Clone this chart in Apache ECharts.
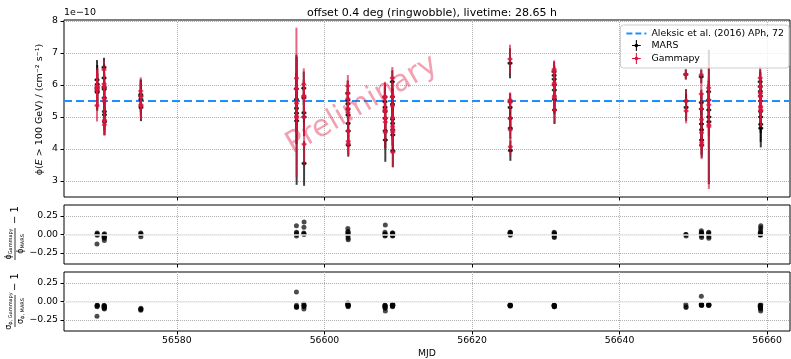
<!DOCTYPE html>
<meta charset="utf-8">
<title>Light curve MARS vs Gammapy</title>
<style>
body { margin: 0; background: #fff; }
#main { width: 791px; height: 359px; }
</style>
<body>
<div id="main"></div>
<script src="https://cdn.jsdelivr.net/npm/echarts@6/dist/echarts.min.js"></script>
<script>
// flux in units of 1e-10 cm^-2 s^-1, one entry per run (grouped by night)
var mjd = [
  56569.17, 56569.18, 56569.19, 56569.20, 56569.21,
  56570.12, 56570.13, 56570.14, 56570.15, 56570.16, 56570.17, 56570.18, 56570.19,
  56575.10, 56575.11, 56575.12, 56575.13,
  56596.19, 56596.20, 56596.21, 56596.22, 56596.23,
  56597.20, 56597.21, 56597.22, 56597.23, 56597.24,
  56603.16, 56603.17, 56603.18, 56603.19, 56603.20, 56603.21, 56603.22, 56603.23,
  56608.19, 56608.20, 56608.21, 56608.22, 56608.23, 56608.24, 56608.25,
  56609.20, 56609.21, 56609.22, 56609.23, 56609.24, 56609.25, 56609.26, 56609.27,
  56625.15, 56625.16, 56625.17, 56625.18, 56625.19, 56625.20,
  56631.12, 56631.13, 56631.14, 56631.15, 56631.16, 56631.17, 56631.18,
  56648.98, 56649.00, 56649.02,
  56651.07, 56651.08, 56651.09, 56651.10, 56651.11, 56651.12, 56651.13,
  56652.07, 56652.08, 56652.09, 56652.10, 56652.11,
  56659.06, 56659.07, 56659.08, 56659.09, 56659.10, 56659.11, 56659.12, 56659.13, 56659.14
];
var marsFlux = [
  6.16, 5.90, 5.82, 5.77, 6.02,
  6.55, 6.22, 5.93, 5.87, 5.60, 5.17, 5.07, 4.85,
  5.70, 5.65, 5.55, 5.30,
  5.88, 5.55, 5.27, 5.12, 4.88,
  5.90, 5.60, 5.13, 5.00, 3.55,
  5.74, 5.53, 5.41, 5.24, 5.06, 4.80, 4.56, 4.12,
  5.62, 5.48, 5.30, 5.17, 4.96, 4.57, 4.28,
  6.10, 5.63, 5.40, 4.93, 4.80, 4.60, 4.44, 3.94,
  6.68, 5.48, 5.30, 4.96, 4.65, 3.95,
  6.42, 6.30, 6.18, 6.00, 5.84, 5.55, 5.22,
  6.33, 5.50, 5.30,
  6.26, 5.45, 5.25, 4.78, 4.60, 4.28, 4.12,
  5.79, 5.53, 5.22, 5.00, 4.85,
  6.10, 5.95, 5.80, 5.65, 5.50, 5.17, 5.00, 4.77, 4.65
];
var marsErr = [
  0.62, 0.60, 0.57, 0.58, 0.60,
  0.30, 0.45, 0.48, 0.46, 0.50, 0.36, 0.48, 0.42,
  0.48, 0.50, 0.50, 0.43,
  0.50, 1.40, 0.55, 0.60, 2.00,
  0.52, 0.55, 0.60, 0.60, 0.70,
  0.40, 0.35, 0.50, 0.50, 0.45, 0.45, 0.45, 0.36,
  0.43, 0.50, 0.50, 0.50, 0.50, 0.55, 0.68,
  0.36, 0.50, 0.50, 0.50, 0.50, 0.50, 0.50, 0.50,
  0.47, 0.25, 0.30, 0.30, 0.32, 0.32,
  0.31, 0.30, 0.40, 0.40, 0.40, 0.45, 0.44,
  0.16, 0.37, 0.42,
  0.21, 0.40, 0.45, 0.45, 0.40, 0.45, 0.39,
  0.35, 0.50, 0.50, 2.10, 0.45,
  0.39, 0.45, 0.45, 0.45, 0.50, 0.50, 0.50, 0.55, 0.60
];
var gammapyFlux = [
  5.36, 5.90, 5.93, 5.83, 5.96,
  6.48, 6.03, 5.93, 5.58, 5.49, 4.76, 4.87, 4.90,
  5.81, 5.65, 5.38, 5.35,
  5.88, 6.21, 5.43, 5.02, 4.98,
  6.02, 5.66, 5.64, 5.00, 4.15,
  5.74, 5.97, 5.57, 5.14, 5.26, 4.56, 4.24, 4.16,
  5.62, 5.64, 5.19, 5.22, 4.96, 4.52, 4.84,
  6.22, 5.63, 5.35, 4.98, 4.70, 4.60, 4.53, 3.90,
  6.81, 5.53, 5.46, 4.96, 4.60, 4.07,
  6.42, 6.49, 6.00, 6.06, 5.61, 5.66, 5.22,
  6.33, 5.50, 5.19,
  6.32, 5.72, 5.25, 4.92, 4.51, 4.11, 4.20,
  5.91, 5.53, 5.38, 4.75, 4.70,
  6.22, 5.95, 5.74, 5.65, 5.50, 5.33, 5.30, 5.20, 5.21
];
var gammapyErr = [
  0.50, 0.56, 0.54, 0.55, 0.57,
  0.28, 0.41, 0.46, 0.42, 0.47, 0.32, 0.45, 0.39,
  0.43, 0.44, 0.45, 0.39,
  0.47, 1.58, 0.52, 0.55, 1.86,
  0.50, 0.51, 0.54, 0.57, 0.66,
  0.39, 0.34, 0.48, 0.48, 0.42, 0.43, 0.42, 0.34,
  0.41, 0.46, 0.47, 0.48, 0.45, 0.51, 0.59,
  0.34, 0.47, 0.48, 0.47, 0.48, 0.47, 0.48, 0.48,
  0.45, 0.24, 0.29, 0.29, 0.30, 0.30,
  0.29, 0.28, 0.38, 0.37, 0.38, 0.43, 0.41,
  0.15, 0.34, 0.39,
  0.20, 0.43, 0.43, 0.43, 0.38, 0.43, 0.37,
  0.33, 0.48, 0.48, 2.00, 0.43,
  0.37, 0.42, 0.42, 0.41, 0.46, 0.46, 0.45, 0.48, 0.52
];
// phi_Gammapy / phi_MARS - 1
var fluxRatio = [
  -0.13, 0.00, 0.02, 0.01, -0.01,
  -0.01, -0.03, 0.00, -0.05, -0.02, -0.08, -0.04, 0.01,
  0.02, 0.00, -0.03, 0.01,
  0.00, 0.12, 0.03, -0.02, 0.02,
  0.02, 0.01, 0.10, 0.00, 0.17,
  0.00, 0.08, 0.03, -0.02, 0.04, -0.05, -0.07, 0.01,
  0.00, 0.03, -0.02, 0.01, 0.00, -0.01, 0.13,
  0.02, 0.00, -0.01, 0.01, -0.02, 0.00, 0.02, -0.01,
  0.02, 0.01, 0.03, 0.00, -0.01, 0.03,
  0.00, 0.03, -0.03, 0.01, -0.04, 0.02, 0.00,
  0.00, 0.00, -0.02,
  0.01, 0.05, 0.00, 0.03, -0.02, -0.04, 0.02,
  0.02, 0.00, 0.03, -0.05, -0.03,
  0.02, 0.00, -0.01, 0.00, 0.00, 0.03, 0.06, 0.09, 0.12
];
// sigma_Gammapy / sigma_MARS - 1
var errRatio = [
  -0.20, -0.07, -0.05, -0.06, -0.05,
  -0.06, -0.08, -0.05, -0.09, -0.07, -0.10, -0.06, -0.08,
  -0.10, -0.12, -0.11, -0.09,
  -0.07, 0.13, -0.05, -0.08, -0.07,
  -0.03, -0.07, -0.10, -0.05, -0.06,
  -0.03, -0.02, -0.05, -0.04, -0.07, -0.05, -0.06, -0.05,
  -0.05, -0.08, -0.06, -0.05, -0.09, -0.07, -0.13,
  -0.05, -0.06, -0.04, -0.07, -0.05, -0.06, -0.05, -0.04,
  -0.05, -0.06, -0.05, -0.04, -0.05, -0.06,
  -0.05, -0.06, -0.05, -0.07, -0.06, -0.05, -0.07,
  -0.04, -0.08, -0.07,
  -0.04, 0.07, -0.04, -0.05, -0.04, -0.05, -0.05,
  -0.05, -0.04, -0.05, -0.05, -0.04,
  -0.05, -0.07, -0.06, -0.08, -0.09, -0.07, -0.10, -0.13, -0.04
];
var refFlux = 5.5;   // Aleksic et al. (2016)
var xTicks = [56580, 56600, 56620, 56640, 56660];
var fluxTicks = [3, 4, 5, 6, 7, 8];
var ratioTicks = [-0.25, 0, 0.25];

var xMin = 56564.7, xMax = 56663.1;
var left = 64, right = 1;
var panels = [{ top: 20, height: 177 }, { top: 205, height: 59 }, { top: 272, height: 59 }];

var font = 'DejaVu Sans';
var tickFont = 9.3;
var gridLine = { show: true, lineStyle: { color: '#b0b0b0', type: 'dotted', width: 1 } };

function rows(x, y, e) {
  return x.map(function (v, i) { return [v, y[i], e[i]]; });
}
function pairs(x, y) {
  return x.map(function (v, i) { return [v, y[i]]; });
}

function errorBar(color, opacity, lw) {
  return function (params, api) {
    var x = api.value(0), y = api.value(1), e = api.value(2);
    var p = api.coord([x, y]);
    var hi = api.coord([x, y + e]);
    var lo = api.coord([x, y - e]);
    var st = { stroke: color, lineWidth: lw, opacity: opacity };
    return {
      type: 'group',
      children: [
        { type: 'line', shape: { x1: p[0], y1: hi[1], x2: p[0], y2: lo[1] }, style: st },
        { type: 'line', shape: { x1: p[0] - 2.5, y1: p[1], x2: p[0] + 2.5, y2: p[1] }, style: st },
        { type: 'circle', shape: { cx: p[0], cy: p[1], r: 2 }, style: { fill: color, opacity: opacity } }
      ]
    };
  };
}

function xAxis(i, labels) {
  return {
    type: 'value', gridIndex: i, min: xMin, max: xMax,
    axisLine: { show: false, onZero: false },
    axisTick: { show: true, length: 3.5, inside: false, customValues: xTicks, lineStyle: { color: '#000' } },
    axisLabel: {
      show: labels, customValues: xTicks, color: '#000', fontFamily: font, fontSize: tickFont, margin: 5,
      formatter: function (v) { return String(v); }
    },
    splitLine: gridLine,
    name: labels ? 'MJD' : '', nameLocation: 'middle', nameGap: 18,
    nameTextStyle: { color: '#000', fontFamily: font, fontSize: tickFont }
  };
}
function ratioAxis(i) {
  return {
    type: 'value', gridIndex: i, min: -0.4, max: 0.4,
    axisLine: { show: false, onZero: false },
    axisTick: { show: true, length: 3.5, customValues: ratioTicks, lineStyle: { color: '#000' } },
    axisLabel: {
      customValues: ratioTicks, color: '#000', fontFamily: font, fontSize: tickFont, margin: 6,
      formatter: function (v) { return (v < 0 ? '\u2212' : '') + Math.abs(v).toFixed(2); }
    },
    splitLine: gridLine
  };
}

var zeroLine = {
  silent: true, symbol: 'none', label: { show: false },
  lineStyle: { color: '#ebebeb', type: 'solid', width: 1.5 },
  data: [{ yAxis: 0 }]
};

function fracLabel(cy, num, den) {
  var rich = {
    m: { fontFamily: font, fontSize: 8, fill: '#000' },
    s: { fontFamily: font, fontSize: 5, fill: '#000', padding: [4, 0, 0, 0] }
  };
  return {
    type: 'group', x: 15, y: cy, rotation: Math.PI / 2,
    children: [
      { type: 'text', x: -11, y: -6, style: { text: num, rich: rich, align: 'center', verticalAlign: 'middle' } },
      { type: 'line', shape: { x1: -27, y1: 0, x2: 5, y2: 0 }, style: { stroke: '#000', lineWidth: 0.8 } },
      { type: 'text', x: -11, y: 6, style: { text: den, rich: rich, align: 'center', verticalAlign: 'middle' } },
      { type: 'text', x: 18, y: 0, style: { text: '\u2212 1', fontFamily: font, fontSize: 10, fill: '#000', align: 'center', verticalAlign: 'middle' } }
    ]
  };
}

var myChart = echarts.init(document.getElementById('main'), null, { renderer: 'canvas' });

// thin errorbar cross with a dot, as in the matplotlib legend
var crossIcon = 'path://M4.4,0h1.2v4.3a1.8,1.8 0 0 1 1.4,1.4h3v1.2h-3a1.8,1.8 0 0 1 -1.4,1.4v4.3h-1.2v-4.3a1.8,1.8 0 0 1 -1.4,-1.4h-3v-1.2h3a1.8,1.8 0 0 1 1.4,-1.4z';

var option = {
  animation: false,
  backgroundColor: '#fff',
  textStyle: { fontFamily: font },
  title: {
    text: 'offset 0.4 deg (ringwobble), livetime: 28.65 h',
    left: left + (791 - left - right) / 2, textAlign: 'center', top: 3,
    textStyle: { fontFamily: font, fontSize: 11, fontWeight: 'normal', color: '#000' }
  },
  grid: panels.map(function (p) {
    return { left: left, right: right, top: p.top, height: p.height, show: true, borderColor: '#000', borderWidth: 1, backgroundColor: 'transparent' };
  }),
  legend: {
    orient: 'vertical', right: 2, top: 25,
    backgroundColor: 'rgba(255,255,255,0.8)', borderColor: '#cccccc', borderWidth: 1, borderRadius: 3,
    padding: [4, 5, 4, 5], itemGap: 2, itemWidth: 20, itemHeight: 11,
    textStyle: { fontFamily: font, fontSize: 9.4, color: '#000' },
    data: [
      {
        name: 'Aleksic et al. (2016) APh, 72',
        itemStyle: { opacity: 0 },
        lineStyle: { color: '#1e90ff', width: 2, type: [6, 3], opacity: 1 }
      },
      { name: 'MARS', icon: crossIcon },
      { name: 'Gammapy', icon: crossIcon }
    ]
  },
  xAxis: [xAxis(0, false), xAxis(1, false), xAxis(2, true)],
  yAxis: [
    {
      type: 'value', gridIndex: 0, min: 2.5, max: 8.03,
      axisLine: { show: false, onZero: false },
      axisTick: { show: true, length: 3.5, customValues: fluxTicks, lineStyle: { color: '#000' } },
      axisLabel: { customValues: fluxTicks, color: '#000', fontFamily: font, fontSize: tickFont, margin: 6 },
      splitLine: gridLine
    },
    ratioAxis(1),
    ratioAxis(2)
  ],
  series: [
    {
      name: 'Aleksic et al. (2016) APh, 72', type: 'line', xAxisIndex: 0, yAxisIndex: 0,
      data: [[xMin, refFlux], [xMax, refFlux]], symbol: 'none', silent: true, z: 1,
      itemStyle: { color: '#1e90ff' },
      lineStyle: { color: '#1e90ff', width: 2, type: [8, 4] }
    },
    {
      name: 'MARS', type: 'custom', xAxisIndex: 0, yAxisIndex: 0, clip: true, z: 2,
      itemStyle: { color: '#000' },
      renderItem: errorBar('#000', 0.75, 2),
      encode: { x: 0, y: 1 },
      data: rows(mjd, marsFlux, marsErr)
    },
    {
      name: 'Gammapy', type: 'custom', xAxisIndex: 0, yAxisIndex: 0, clip: true, z: 3,
      itemStyle: { color: '#dc143c' },
      renderItem: errorBar('#dc143c', 0.65, 2),
      encode: { x: 0, y: 1 },
      data: rows(mjd, gammapyFlux, gammapyErr)
    },
    {
      type: 'scatter', xAxisIndex: 1, yAxisIndex: 1, symbolSize: 5, z: 3,
      itemStyle: { color: '#000', opacity: 0.7 },
      markLine: zeroLine,
      data: pairs(mjd, fluxRatio)
    },
    {
      type: 'scatter', xAxisIndex: 2, yAxisIndex: 2, symbolSize: 5, z: 3,
      itemStyle: { color: '#000', opacity: 0.7 },
      markLine: zeroLine,
      data: pairs(mjd, errRatio)
    }
  ],
  graphic: [
    { type: 'text', left: left, top: 8, style: { text: '1e\u221210', fontFamily: font, fontSize: 9.5, fill: '#000' } },
    {
      type: 'text', x: 40, y: panels[0].top + panels[0].height / 2 + 1, rotation: Math.PI / 2,
      style: {
        text: '\u03d5({i|E} > 100 GeV) / (cm\u207b\u00b2 s\u207b\u00b9)',
        fontFamily: font, fontSize: 9.5, fill: '#000', align: 'center', verticalAlign: 'middle',
        rich: { i: { fontStyle: 'italic', fontFamily: font, fontSize: 9.5, fill: '#000' } }
      }
    },
    {
      type: 'text', x: 362, y: 105, rotation: Math.PI / 6, z: 10, silent: true,
      style: { text: 'Preliminary', fontFamily: font, fontSize: 30, fill: 'rgba(220,20,60,0.4)', align: 'center', verticalAlign: 'middle' }
    },
    fracLabel(233, '{m|\u03d5}{s|Gammapy}', '{m|\u03d5}{s|MARS}'),
    fracLabel(300, '{m|\u03c3}{s|\u03d5, Gammapy}', '{m|\u03c3}{s|\u03d5, MARS}')
  ]
};

myChart.setOption(option);
</script>
</body>
